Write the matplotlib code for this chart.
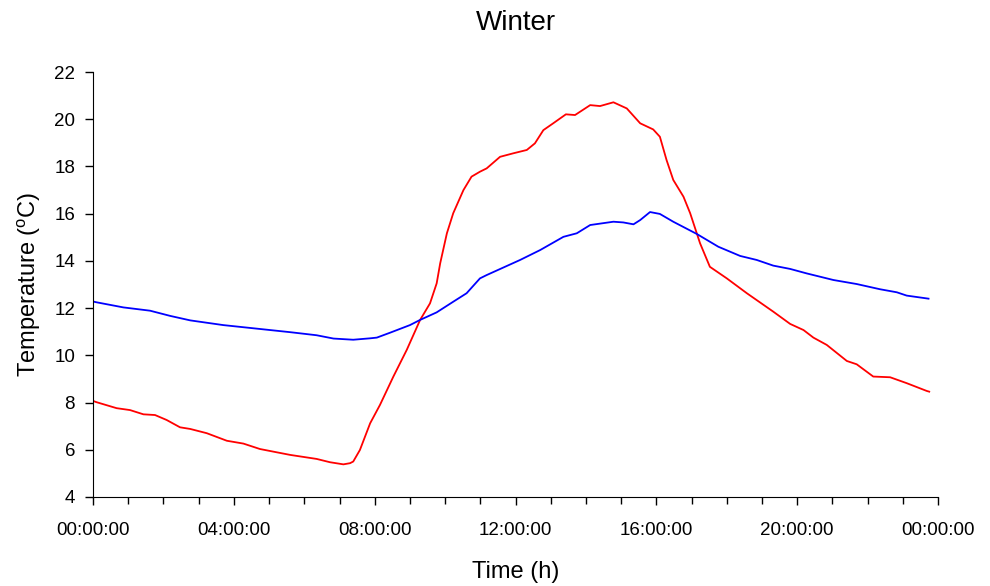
import matplotlib.pyplot as plt
from matplotlib.ticker import FixedLocator, FuncFormatter, MultipleLocator

plt.rcParams['font.family'] = ['Liberation Sans', 'DejaVu Sans']
plt.rcParams['mathtext.fontset'] = 'custom'
plt.rcParams['mathtext.rm'] = 'Liberation Sans'

# Outdoor (red) temperature trace, hours since midnight
red_hours = [0.0, 0.085, 0.67, 1.05, 1.43, 1.76, 2.09, 2.47, 2.76, 3.23, 3.80, 4.27, 4.74,
             5.22, 5.60, 6.35, 6.73, 7.11, 7.30, 7.39, 7.58, 7.87, 8.15, 8.53, 8.91,
             9.29, 9.57, 9.76, 9.86, 10.05, 10.23, 10.52, 10.75, 10.99, 11.18, 11.56,
             11.94, 12.32, 12.55, 12.79, 13.07, 13.43, 13.69, 14.12, 14.40, 14.78,
             15.16, 15.54, 15.91, 16.10, 16.29, 16.48, 16.77, 16.96, 17.24, 17.52,
             18.0, 18.57, 19.32, 19.80, 20.18, 20.46, 20.84, 21.41, 21.69, 22.16,
             22.64, 23.11, 23.68, 23.75]
red_temp = [8.07, 8.02, 7.76, 7.68, 7.50, 7.47, 7.26, 6.95, 6.88, 6.70, 6.38, 6.26, 6.03,
            5.89, 5.78, 5.61, 5.47, 5.38, 5.43, 5.50, 5.99, 7.12, 7.90, 9.10, 10.23,
            11.50, 12.20, 13.05, 13.90, 15.17, 16.02, 17.0, 17.57, 17.78, 17.92, 18.41,
            18.56, 18.70, 18.98, 19.54, 19.83, 20.21, 20.18, 20.60, 20.56, 20.72,
            20.46, 19.83, 19.57, 19.26, 18.27, 17.43, 16.72, 16.02, 14.75, 13.75,
            13.26, 12.63, 11.85, 11.33, 11.07, 10.75, 10.44, 9.76, 9.62, 9.10,
            9.07, 8.82, 8.49, 8.46]

# Indoor (blue) temperature trace
blue_hours = [0.0, 0.085, 0.86, 1.62, 2.19, 2.76, 3.70, 4.65, 5.60, 6.35, 6.83, 7.39,
              7.87, 8.06, 8.44, 9.0, 9.29, 9.76, 10.23, 10.61, 10.99, 11.18, 12.13,
              12.70, 13.36, 13.74, 14.12, 14.78, 15.06, 15.35, 15.54, 15.82, 16.10,
              16.48, 17.15, 17.76, 18.38, 18.85, 19.32, 19.80, 20.27, 21.03, 21.69,
              22.35, 22.83, 23.11, 23.73]
blue_temp = [12.28, 12.25, 12.03, 11.89, 11.67, 11.48, 11.28, 11.13, 10.98, 10.85, 10.71,
             10.66, 10.72, 10.75, 10.96, 11.28, 11.50, 11.82, 12.27, 12.63, 13.26, 13.40,
             14.04, 14.46, 15.02, 15.17, 15.52, 15.66, 15.63, 15.55, 15.73, 16.07, 15.99,
             15.66, 15.14, 14.60, 14.21, 14.04, 13.80, 13.66, 13.47, 13.19, 13.02,
             12.80, 12.67, 12.53, 12.40]

hour_ticks = [0, 4, 8, 12, 16, 20, 24]

fig = plt.figure(figsize=(9.9, 5.86), dpi=100)
ax = fig.add_axes([0.094, 0.152, 0.8535, 0.725])

ax.plot(red_hours, red_temp, color='#ff0000', lw=1.3)
ax.plot(blue_hours, blue_temp, color='#0000ff', lw=1.3)

ax.set_xlim(0, 24)
ax.set_ylim(4, 22)
ax.xaxis.set_major_locator(FixedLocator(hour_ticks))
ax.xaxis.set_minor_locator(MultipleLocator(1))
ax.xaxis.set_major_formatter(FuncFormatter(lambda v, p: '%02d:00:00' % (int(v) % 24)))
ax.yaxis.set_major_locator(MultipleLocator(2))

for side in ['top', 'right']:
    ax.spines[side].set_visible(False)
ax.tick_params(which='major', direction='out', length=6, width=1, labelsize=13.5)
ax.tick_params(axis='x', which='major', pad=12)
ax.tick_params(axis='y', which='major', pad=7)
ax.tick_params(which='minor', direction='out', length=5, width=1)

ax.set_title('Winter', fontsize=20, pad=30)
ax.set_xlabel('Time (h)', fontsize=17, labelpad=16)
ax.set_ylabel('Temperature ($\\mathrm{^{o}}$C)', fontsize=17, labelpad=8)

fig.savefig('out.png', dpi=100)
